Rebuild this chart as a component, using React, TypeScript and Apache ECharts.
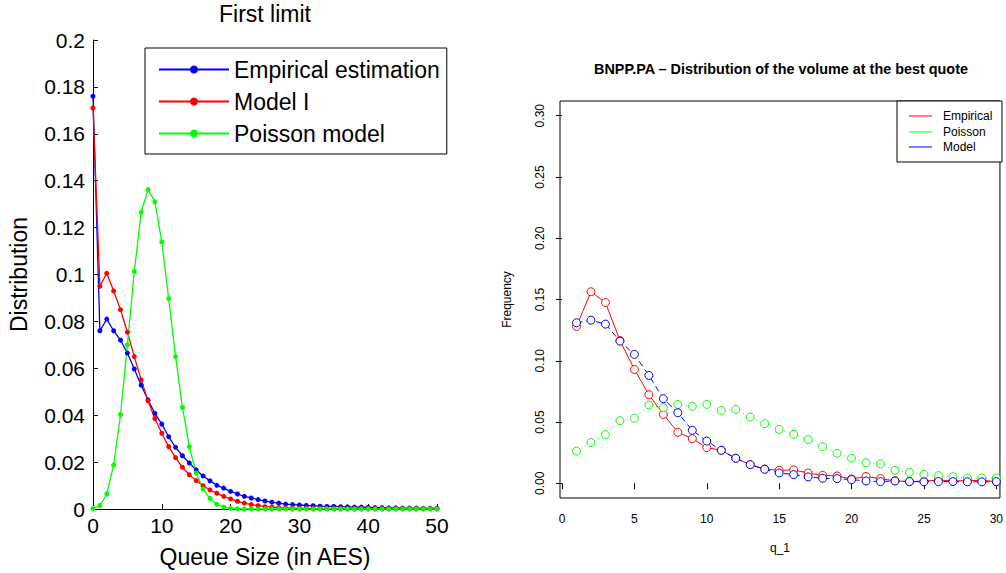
import React, { useEffect, useRef } from "react";
import * as echarts from "echarts";

// ---------- Left chart: "First limit" ----------
const leftQueueSizes = [
  0, 1, 2, 3, 4, 5, 6, 7, 8, 9, 10, 11, 12, 13, 14, 15, 16, 17, 18, 19, 20,
  21, 22, 23, 24, 25, 26, 27, 28, 29, 30, 31, 32, 33, 34, 35, 36, 37, 38, 39,
  40, 41, 42, 43, 44, 45, 46, 47, 48, 49, 50,
];
const leftEmpirical = [
  0.176, 0.076, 0.081, 0.076, 0.072, 0.0665, 0.0597, 0.0528, 0.0465, 0.0408,
  0.0362, 0.0308, 0.0263, 0.0227, 0.0196, 0.0167, 0.0141, 0.012, 0.0101,
  0.0089, 0.0075, 0.0064, 0.0054, 0.0047, 0.004, 0.0034, 0.0029, 0.0025,
  0.0021, 0.0019, 0.0017, 0.0015, 0.0014, 0.0012, 0.0011, 0.0011, 0.001,
  0.0009, 0.0008, 0.0008, 0.0007, 0.0006, 0.0006, 0.0005, 0.0005, 0.0004,
  0.0004, 0.0004, 0.0003, 0.0003, 0.0003,
];
const leftModel = [
  0.171, 0.095, 0.1005, 0.093, 0.085, 0.0754, 0.065, 0.0551, 0.0461, 0.0386,
  0.0323, 0.0266, 0.0219, 0.0178, 0.0146, 0.0121, 0.0099, 0.0081, 0.0067,
  0.0054, 0.0043, 0.0033, 0.0025, 0.0019, 0.0014, 0.001, 0.0008, 0.0006,
  0.0005, 0.0004, 0.0003, 0.0003, 0.0002, 0.0002, 0.0002, 0.0001, 0.0001,
  0.0001, 0.0001, 0.0001, 0.0001, 0.0001, 0.0001, 0.0001, 0.0001, 0.0001,
  0.0001, 0.0001, 0.0001, 0.0001, 0.0001,
];
const leftPoisson = [
  0.0002, 0.0015, 0.0064, 0.0187, 0.0403, 0.07, 0.1013, 0.1265, 0.1362,
  0.131, 0.1139, 0.0897, 0.065, 0.0433, 0.0266, 0.0153, 0.0085, 0.0045,
  0.002, 0.0008, 0.0003, 0.0001, 0, 0, 0, 0, 0, 0, 0, 0, 0, 0, 0, 0, 0, 0, 0,
  0, 0, 0, 0, 0, 0, 0, 0, 0, 0, 0, 0, 0, 0,
];
const leftNames = ["Empirical estimation", "Model I", "Poisson model"];
const leftColors = ["#0000ff", "#ff0000", "#00ff00"];

// ---------- Right chart: BNPP.PA ----------
const rightQ = [
  1, 2, 3, 4, 5, 6, 7, 8, 9, 10, 11, 12, 13, 14, 15, 16, 17, 18, 19, 20, 21,
  22, 23, 24, 25, 26, 27, 28, 29, 30,
];
const rightEmpirical = [
  0.128, 0.1563, 0.1475, 0.1165, 0.0929, 0.0723, 0.0562, 0.0416, 0.0364,
  0.0291, 0.027, 0.0204, 0.0152, 0.0117, 0.0106, 0.0109, 0.0084, 0.0065,
  0.006, 0.0035, 0.0055, 0.0038, 0.002, 0.0014, 0.0017, 0.0027, 0.0019,
  0.0022, 0.0024, 0.0014,
];
const rightPoisson = [
  0.0263, 0.0332, 0.0397, 0.0511, 0.053, 0.0639, 0.0617, 0.0644, 0.0628,
  0.0644, 0.0595, 0.0603, 0.054, 0.0486, 0.044, 0.04, 0.0356, 0.0299, 0.0245,
  0.0204, 0.0168, 0.0158, 0.0106, 0.009, 0.0073, 0.0062, 0.0054, 0.0043,
  0.0043, 0.0043,
];
const rightModel = [
  0.131, 0.1331, 0.1299, 0.116, 0.1052, 0.088, 0.069, 0.0576, 0.0432, 0.0345,
  0.0269, 0.0204, 0.0152, 0.0114, 0.0084, 0.0071, 0.0052, 0.0041, 0.0038,
  0.003, 0.0019, 0.0014, 0.0019, 0.0014, 0.0012, 0.0014, 0.0014, 0.0012,
  0.0012, 0.0014,
];
const rightNames = ["Empirical", "Poisson", "Model"];
const rightColors = ["#ff0000", "#00ff00", "#0000ff"];
const rightXTicks = [0, 5, 10, 15, 20, 25, 30];
const rightYTicks = [0, 0.05, 0.1, 0.15, 0.2, 0.25, 0.3];

const FONT = "Liberation Sans, Arial, Helvetica, sans-serif";

export default function App() {
  const ref = useRef<HTMLDivElement>(null);

  useEffect(() => {
    if (!ref.current) return;
    const chart = echarts.init(ref.current, null, { renderer: "svg" });

    const leftSeriesValues = [leftEmpirical, leftModel, leftPoisson];
    const rightSeriesValues = [rightEmpirical, rightPoisson, rightModel];
    const rightLineTypes: any[] = ["solid", [1, 4], [6, 4]];

    const leftSeries = leftNames.map((name, i) => ({
      name,
      type: "line",
      xAxisIndex: 0,
      yAxisIndex: 0,
      data: leftQueueSizes.map((x, j) => [x, leftSeriesValues[i][j]]),
      symbol: "circle",
      symbolSize: 5,
      itemStyle: { color: leftColors[i] },
      lineStyle: { color: leftColors[i], width: 1.3 },
      z: 3,
    }));

    const rightSeries = rightNames.map((name, i) => ({
      name,
      type: "line",
      xAxisIndex: 1,
      yAxisIndex: 1,
      data: rightQ.map((x, j) => [x, rightSeriesValues[i][j]]),
      symbol: "circle",
      symbolSize: 8,
      itemStyle: { color: "#ffffff", borderColor: rightColors[i], borderWidth: 1 },
      lineStyle: { color: rightColors[i], width: 1, type: rightLineTypes[i] },
      z: 3,
    }));

    // Right legend drawn with graphic elements (R-style legend box)
    const rLegX = 897;
    const rLegY = 101;
    const rLegRows = [116, 132, 147];
    const rightLegend: any[] = [
      {
        type: "rect",
        shape: { x: rLegX, y: rLegY, width: 105, height: 61 },
        style: { fill: "#fff", stroke: "#000", lineWidth: 1 },
        z: 100,
      },
    ];
    rightNames.forEach((n, i) => {
      rightLegend.push({
        type: "line",
        shape: { x1: 909, y1: rLegRows[i], x2: 932, y2: rLegRows[i] },
        style: { stroke: rightColors[i], lineWidth: 1 },
        z: 101,
      });
      rightLegend.push({
        type: "text",
        x: 943,
        y: rLegRows[i],
        style: {
          text: n,
          fill: "#000",
          font: `12px ${FONT}`,
          align: "left",
          verticalAlign: "middle",
        },
        z: 101,
      });
    });

    const option: any = {
      animation: false,
      backgroundColor: "#ffffff",
      textStyle: { fontFamily: FONT, color: "#000" },
      grid: [
        { left: 93, top: 40, width: 344, height: 472, containLabel: false },
        {
          left: 560,
          top: 101,
          width: 442,
          height: 397,
          show: true,
          borderColor: "#000",
          borderWidth: 1,
          backgroundColor: "transparent",
        },
      ],
      xAxis: [
        {
          type: "value",
          gridIndex: 0,
          min: 0,
          max: 50,
          interval: 10,
          axisLine: { show: true, onZero: false, lineStyle: { color: "#000", width: 1 } },
          axisTick: { show: true, inside: true, length: 5, lineStyle: { color: "#000" } },
          axisLabel: { fontSize: 21, color: "#000", margin: 6, fontFamily: FONT },
          splitLine: { show: false },
          name: "Queue Size (in AES)",
          nameLocation: "middle",
          nameGap: 36,
          nameTextStyle: { fontSize: 23, color: "#000", fontFamily: FONT },
        },
        {
          type: "value",
          gridIndex: 1,
          min: -0.14,
          max: 30.25,
          axisLine: { show: false },
          axisTick: {
            show: true,
            inside: false,
            length: 6,
            customValues: rightXTicks,
            lineStyle: { color: "#000" },
          },
          axisLabel: {
            fontSize: 12,
            color: "#000",
            margin: 15,
            customValues: rightXTicks,
            fontFamily: FONT,
          },
          splitLine: { show: false },
          name: "q_1",
          nameLocation: "middle",
          nameGap: 44,
          nameTextStyle: { fontSize: 12, color: "#000", fontFamily: FONT },
        },
      ],
      yAxis: [
        {
          type: "value",
          gridIndex: 0,
          min: 0,
          max: 0.2,
          interval: 0.02,
          axisLine: { show: true, onZero: false, lineStyle: { color: "#000", width: 1 } },
          axisTick: { show: true, inside: true, length: 5, lineStyle: { color: "#000" } },
          axisLabel: {
            fontSize: 21,
            color: "#000",
            margin: 8,
            fontFamily: FONT,
            formatter: (v: number) => String(+v.toFixed(2)),
          },
          splitLine: { show: false },
          name: "Distribution",
          nameLocation: "middle",
          nameGap: 63,
          nameTextStyle: { fontSize: 23, color: "#000", fontFamily: FONT },
        },
        {
          type: "value",
          gridIndex: 1,
          min: -0.012,
          max: 0.312,
          axisLine: { show: false },
          axisTick: {
            show: true,
            inside: false,
            length: 6,
            customValues: rightYTicks,
            lineStyle: { color: "#000" },
          },
          axisLabel: {
            fontSize: 12,
            color: "#000",
            margin: 14,
            rotate: 90,
            customValues: rightYTicks,
            fontFamily: FONT,
            formatter: (v: number) => v.toFixed(2),
          },
          splitLine: { show: false },
          name: "Frequency",
          nameLocation: "middle",
          nameGap: 47,
          nameTextStyle: { fontSize: 12, color: "#000", fontFamily: FONT },
        },
      ],
      legend: [
        {
          left: 145,
          top: 48,
          orient: "vertical",
          selectedMode: false,
          itemWidth: 70,
          itemHeight: 10,
          itemGap: 9,
          padding: [10, 7, 9, 13],
          borderColor: "#000",
          borderWidth: 1,
          backgroundColor: "#fff",
          textStyle: { fontSize: 23, color: "#000", fontFamily: FONT },
          data: leftNames,
          z: 10,
        },
      ],
      graphic: [
        {
          type: "text",
          x: 265,
          y: 14,
          style: {
            text: "First limit",
            fill: "#000",
            font: `23px ${FONT}`,
            align: "center",
            verticalAlign: "middle",
          },
        },
        {
          type: "text",
          x: 781,
          y: 69,
          style: {
            text: "BNPP.PA \u2013 Distribution of the volume at the best quote",
            fill: "#000",
            font: `bold 14.4px ${FONT}`,
            align: "center",
            verticalAlign: "middle",
          },
        },
        ...rightLegend,
      ],
      series: [...leftSeries, ...rightSeries],
    };

    chart.setOption(option);
    return () => chart.dispose();
  }, []);

  return (
    <div
      ref={ref}
      style={{ position: "fixed", left: 0, top: 0, width: 1006, height: 573, background: "#fff" }}
    />
  );
}
